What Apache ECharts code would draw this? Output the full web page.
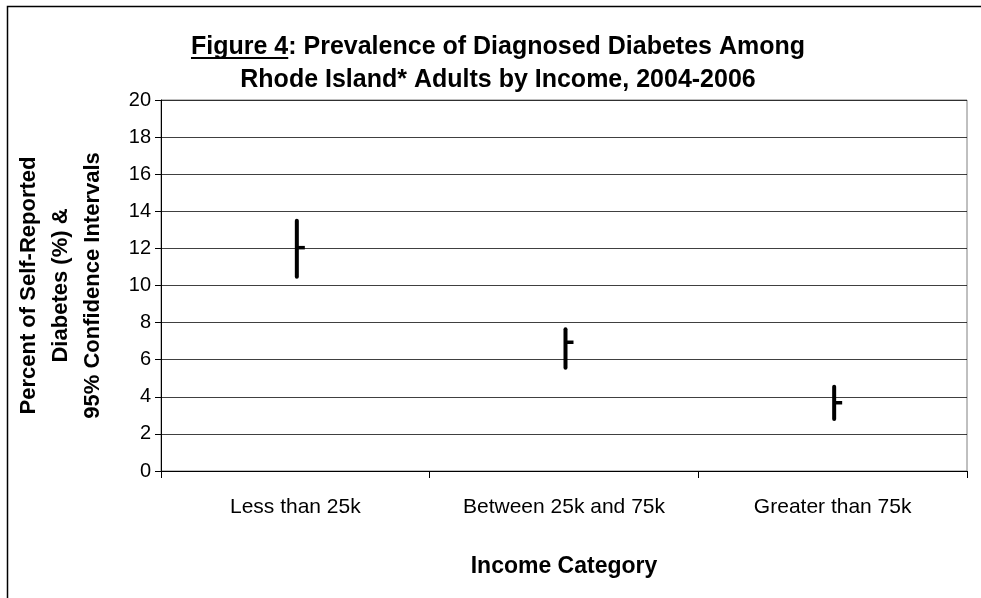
<!DOCTYPE html>
<html>
<head>
<meta charset="utf-8">
<script src="https://cdn.jsdelivr.net/npm/echarts@6/dist/echarts.min.js"></script>
<style>html,body{margin:0;padding:0;background:#fff}#c{width:981px;height:598px}</style>
</head>
<body>
<div id="c"></div>
<script>
const categories = ['Less than 25k', 'Between 25k and 75k', 'Greater than 75k'];
const estimate = [12.04, 6.94, 3.68];
const lower = [10.47, 5.57, 2.80];
const upper = [13.49, 7.64, 4.54];
const yTicks = [0, 2, 4, 6, 8, 10, 12, 14, 16, 18, 20];

const FONT = '"Liberation Sans", Arial, sans-serif';
const TITLE_SIZE = 25;
const titleLine1 = 'Figure 4: Prevalence of Diagnosed Diabetes Among';
const titleLine2 = 'Rhode Island* Adults by Income, 2004-2006';
const TITLE_CX = 498, TITLE_TOP = 31, TITLE_LH = 33;

// measure for the underline under "Figure 4"
const mctx = document.createElement('canvas').getContext('2d');
mctx.font = 'bold ' + TITLE_SIZE + 'px ' + FONT;
const w1 = mctx.measureText(titleLine1).width;
const wFig = mctx.measureText('Figure 4').width;
const ulX1 = TITLE_CX - w1 / 2;

const chart = echarts.init(document.getElementById('c'), null, {renderer: 'canvas'});
const data = categories.map((c, i) => [i, lower[i], upper[i], estimate[i]]);

chart.setOption({
  animation: false,
  backgroundColor: '#fff',
  graphic: [
    {type: 'rect', shape: {x: 7.5, y: 6.5, width: 1100, height: 1100}, style: {fill: 'none', stroke: '#000', lineWidth: 1.5}, z: 0},
    {type: 'line', shape: {x1: ulX1, y1: TITLE_TOP + 27, x2: ulX1 + wFig, y2: TITLE_TOP + 27}, style: {stroke: '#000', lineWidth: 2}, z: 5}
  ],
  title: {
    text: titleLine1 + '\n' + titleLine2,
    left: TITLE_CX, top: TITLE_TOP, textAlign: 'center', padding: 0,
    textStyle: {fontFamily: FONT, fontWeight: 'bold', fontSize: TITLE_SIZE, color: '#000', lineHeight: TITLE_LH, align: 'center'}
  },
  grid: {left: 161, top: 100, right: 14, bottom: 127, containLabel: false, outerBoundsMode: 'none',
    show: true, borderColor: '#808080', borderWidth: 1},
  xAxis: {
    type: 'category', data: categories, boundaryGap: true,
    axisLine: {show: true, lineStyle: {color: '#000', width: 1}},
    axisTick: {show: true, length: 7, inside: false, lineStyle: {color: '#000'}},
    axisLabel: {fontFamily: FONT, fontSize: 21, color: '#000', margin: 26},
    name: 'Income Category', nameLocation: 'middle', nameGap: 84,
    nameTextStyle: {fontFamily: FONT, fontWeight: 'bold', fontSize: 23, color: '#000'}
  },
  yAxis: {
    type: 'value', min: 0, max: 20, interval: 2,
    axisLine: {show: true, lineStyle: {color: '#000', width: 1}},
    axisTick: {show: true, length: 6, lineStyle: {color: '#000'}},
    axisLabel: {fontFamily: FONT, fontSize: 20, color: '#000', margin: 10,
      formatter: v => yTicks.includes(v) ? String(v) : ''},
    splitLine: {show: true, lineStyle: {color: '#000', width: 1, opacity: 0.75}},
    name: 'Percent of Self-Reported\nDiabetes (%) &\n95% Confidence Intervals',
    nameLocation: 'middle', nameRotate: 90, nameGap: 52,
    nameTextStyle: {fontFamily: FONT, fontWeight: 'bold', fontSize: 22, color: '#000', lineHeight: 32, align: 'center'}
  },
  series: [{
    type: 'custom',
    data: data,
    encode: {x: 0, y: [1, 2, 3]},
    renderItem: function (params, api) {
      const x = api.value(0);
      const lo = api.coord([x, api.value(1)]);
      const hi = api.coord([x, api.value(2)]);
      const est = api.coord([x, api.value(3)]);
      const cx = lo[0] + 1.5;
      return {
        type: 'group',
        children: [
          {type: 'line', shape: {x1: cx, y1: hi[1], x2: cx, y2: lo[1]}, style: {stroke: '#000', lineWidth: 4, lineCap: 'round'}},
          {type: 'line', shape: {x1: cx, y1: est[1], x2: cx + 8, y2: est[1]}, style: {stroke: '#000', lineWidth: 3.5}}
        ]
      };
    },
    z: 10
  }]
});
</script>
</body>
</html>
